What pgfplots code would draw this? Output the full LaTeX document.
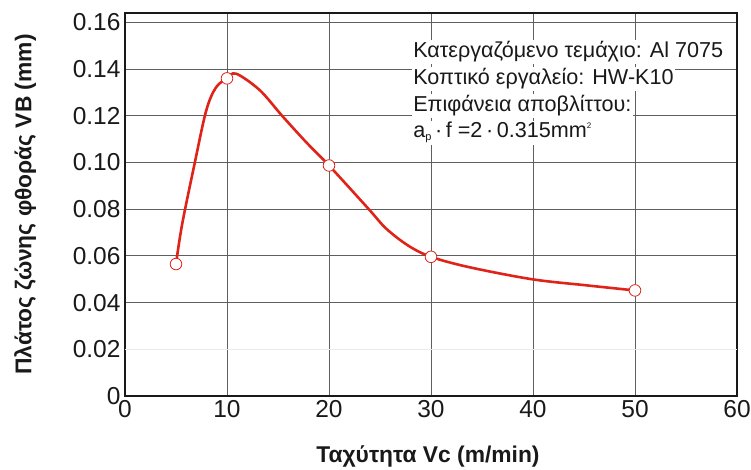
\documentclass[border=0pt]{standalone}
\usepackage{fontspec}
\setmainfont{Liberation Sans}
\usepackage{pgfplots}
\pgfplotsset{compat=1.18}
\definecolor{curvered}{RGB}{224,35,25}
\definecolor{gridgray}{RGB}{95,95,95}
\begin{document}
\begin{tikzpicture}
\useasboundingbox (-125pt,-74pt) rectangle (626pt,396pt);
\begin{axis}[
    scale only axis,
    width=612pt, height=383pt,
    xmin=0, xmax=60, ymin=0, ymax=0.164,
    xtick={0,10,20,30,40,50,60},
    xticklabels={0,10,20,30,40,50,\raisebox{-6pt}{60}},
    ytick={0,0.04,0.06,0.08,0.10,0.12,0.14,0.16},
    yticklabels={0,0.04,0.06,0.08,0.10,0.12,0.14,0.16},
    extra y ticks={0.02},
    extra y tick labels={0.02},
    extra y tick style={grid style={black!8, line width=0.8pt}},
    /pgf/number format/assume math mode=true,
    major tick length=0pt,
    grid=major,
    grid style={gridgray, line width=0.9pt},
    axis line style={line width=2.4pt, black!90},
    tick label style={font=\fontsize{24.5}{28}\selectfont, black!90},
    xticklabel style={yshift=-1pt},
    yticklabel style={xshift=-1pt},
    xlabel={\textbf{Ταχύτητα Vc (m/min)}},
    ylabel={\textbf{Πλάτος ζώνης φθοράς VB (mm)}},
    label style={font=\fontsize{22.8}{26}\selectfont, black!90},
    xlabel style={at={(axis description cs:0.495,-0.157)}, anchor=center},
    ylabel style={at={(axis description cs:-0.163,0.5)}, anchor=center, rotate=0},
    clip=false,
]
% fitted curve
\addplot[curvered, line width=2.6pt, smooth, tension=0.55] coordinates {
    (5,0.0565) (5.6,0.0735) (6.8,0.099) (7.95,0.122) (8.9,0.132) (10,0.136)
    (10.9,0.138) (13.2,0.131) (15.4,0.120) (17.8,0.1085) (20,0.0987)
    (23.9,0.080) (25.6,0.0717) (27.8,0.0643) (30,0.0596) (33.7,0.0552)
    (39.9,0.050) (45.2,0.0474) (50,0.0452)
};
% measured points
\addplot[only marks, mark=*, mark size=5.8pt,
    mark options={draw=curvered, fill=white, line width=0.8pt}] coordinates {
    (5,0.0565) (10,0.136) (20,0.0987) (30,0.0596) (50,0.0452)
};
\begin{scope}[every node/.style={anchor=base west, fill=white, inner sep=1.5pt,
        font=\fontsize{21.6}{25}\selectfont, text=black!90}]
\node at (axis cs:28.1,0.1448) {Κατεργαζόμενο τεμάχιο: Al 7075};
\node at (axis cs:28.1,0.1332) {Κοπτικό εργαλείο: HW-K10};
\node at (axis cs:28.1,0.1217) {Επιφάνεια αποβλίττου:};
\node at (axis cs:28.1,0.1105) {a\raisebox{-3pt}{\fontsize{11}{11}\selectfont p}\,·\,f =2\,·\,0.315mm\raisebox{9pt}{\fontsize{8}{8}\selectfont 2}};
\end{scope}
\end{axis}
\end{tikzpicture}
\end{document}
